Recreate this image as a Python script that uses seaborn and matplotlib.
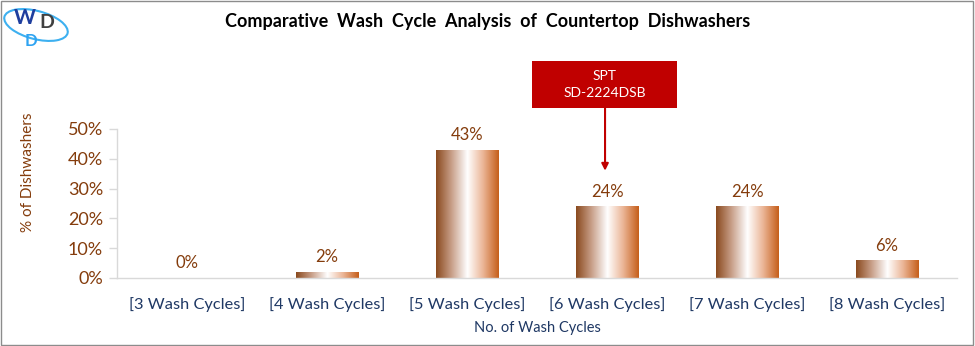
import numpy as np
import pandas as pd
import matplotlib
matplotlib.use("Agg")
import matplotlib.pyplot as plt
import matplotlib.patches as mpatches
from matplotlib.colors import LinearSegmentedColormap
import seaborn as sns

# === DATA ===
categories = ["[3 Wash Cycles]", "[4 Wash Cycles]", "[5 Wash Cycles]",
              "[6 Wash Cycles]", "[7 Wash Cycles]", "[8 Wash Cycles]"]
shares = [0.00, 0.02, 0.43, 0.24, 0.24, 0.06]
y_ticks = [0.0, 0.1, 0.2, 0.3, 0.4, 0.5]
callout_text = "SPT\nSD-2224DSB"
callout_index = 3

df = pd.DataFrame({"Cycles": categories, "Share": shares})

# === STYLE ===
sns.set_style("white")
plt.rcParams["font.family"] = ["Lato", "DejaVu Sans"]

BROWN = "#843C0C"
NAVY = "#1F3864"
GRID = "#D9D9D9"
RED = "#C00000"

fig = plt.figure(figsize=(9.75, 3.46), dpi=100)
ax = fig.add_axes([117 / 975, 1 - 278 / 346, 840 / 975, 149 / 346])

sns.barplot(data=df, x="Cycles", y="Share", color="white", width=0.45,
            ax=ax, zorder=2)

# gradient fill clipped to each bar
cmap = LinearSegmentedColormap.from_list(
    "copper_shine",
    [(0.0, "#8A4A1E"), (0.25, "#C9A08A"), (0.5, "#FFFFFF"),
     (0.75, "#EBB596"), (1.0, "#C55E1A")])
grad = np.linspace(0, 1, 256).reshape(1, -1)
for patch in ax.patches:
    x0, y0 = patch.get_x(), patch.get_y()
    w, h = patch.get_width(), patch.get_height()
    patch.set_facecolor("none")
    patch.set_edgecolor("none")
    if h <= 0:
        continue
    im = ax.imshow(grad, extent=[x0, x0 + w, y0, y0 + h], aspect="auto",
                   cmap=cmap, zorder=2, interpolation="bilinear")
    im.set_clip_path(patch)

ax.set_xlim(-0.5, len(categories) - 0.5)
ax.set_ylim(0, 0.5)

# value labels
for i, v in enumerate(shares):
    ax.text(i, v + 0.022, f"{v:.0%}", ha="center", va="bottom",
            color=BROWN, fontsize=12)

# axes and ticks
ax.set_yticks(y_ticks)
ax.set_yticklabels([f"{t:.0%}" for t in y_ticks], color=BROWN, fontsize=13)
ax.set_xticks(range(len(categories)))
ax.set_xticklabels(categories, color=NAVY, fontsize=11.8)
ax.set_xticks(np.arange(-0.5, len(categories)), minor=True)
ax.tick_params(axis="x", which="major", length=0, pad=14)
ax.tick_params(axis="x", which="minor", length=8, color=GRID, width=1)
ax.tick_params(axis="y", length=6, color=GRID, width=1, pad=4,
               left=True)
for s in ["top", "right"]:
    ax.spines[s].set_visible(False)
for s in ["left", "bottom"]:
    ax.spines[s].set_color(GRID)
    ax.spines[s].set_linewidth(1)

ax.set_xlabel("No. of Wash Cycles", color=NAVY, fontsize=10.5, labelpad=6)
ax.set_ylabel("% of Dishwashers", color=BROWN, fontsize=11)
ax.yaxis.set_label_coords(-0.0976, 0.71)

# callout box and arrow
box = mpatches.Rectangle((2.464, 0.570), 1.036, 0.158, transform=ax.transData,
                         facecolor=RED, edgecolor="none", clip_on=False,
                         zorder=5)
ax.add_patch(box)
ax.text(2.982, 0.649, callout_text, ha="center", va="center", color="white",
        fontsize=10, linespacing=1.5, zorder=6, clip_on=False)
ax.annotate("", xy=(2.986, 0.36), xytext=(2.986, 0.570),
            arrowprops=dict(arrowstyle="-|>", color=RED, lw=1.5,
                            mutation_scale=10, shrinkA=0, shrinkB=0),
            annotation_clip=False, zorder=5)

# title
fig.text(0.5, 1 - 22 / 346, "Comparative  Wash  Cycle  Analysis  of  Countertop  Dishwashers",
         ha="center", va="center", fontsize=13, fontweight="bold", color="black")

# logo
logo = mpatches.Ellipse((36 / 975, 1 - 25 / 346), 54 / 975, 34 / 346, angle=25,
                        transform=fig.transFigure, fill=False,
                        edgecolor="#3DB0F0", lw=1.5)
fig.patches.append(logo)
fig.text(14 / 975, 1 - 18 / 346, "W", fontsize=15, fontweight="bold",
         color="#1F3E9E", va="center", ha="left")
fig.text(39 / 975, 1 - 22 / 346, "D", fontsize=14, fontweight="bold",
         color="#404040", va="center", ha="left")
fig.text(25 / 975, 1 - 41 / 346, "D", fontsize=12, fontweight="bold",
         color="#2EA3F2", va="center", ha="left")

# outer border
border = mpatches.Rectangle((0.001, 0.002), 0.997, 0.995, transform=fig.transFigure,
                            fill=False, edgecolor="#8C8C8C", lw=1)
fig.patches.append(border)

fig.savefig("out.png", dpi=100)
